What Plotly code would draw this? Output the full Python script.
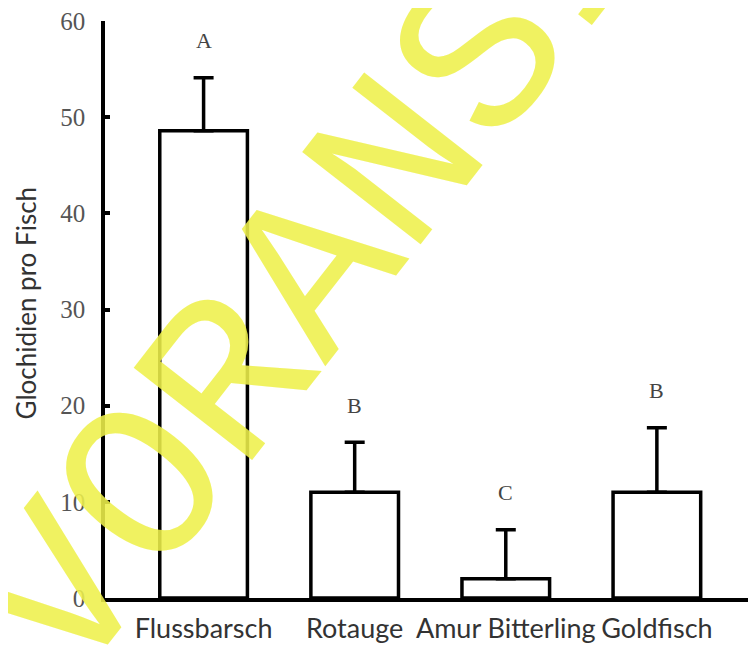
import plotly.graph_objects as go

categories = ["Flussbarsch", "Rotauge", "Amur Bitterling", "Goldfisch"]
means = [48.6, 11.0, 2.0, 11.0]
errors = [5.5, 5.2, 5.1, 6.7]
letters = ["A", "B", "C", "B"]
y_ticks = [0, 10, 20, 30, 40, 50, 60]

fig = go.Figure()
fig.add_trace(go.Bar(
    x=categories, y=means, width=0.58,
    marker=dict(color="white", line=dict(color="black", width=3.5)),
    error_y=dict(type="data", array=errors, symmetric=False, arrayminus=[0]*len(errors),
                 color="black", thickness=3.5, width=10),
    showlegend=False,
))

for c, m, e, l in zip(categories, means, errors, letters):
    fig.add_annotation(x=c, y=m + e, text=l, showarrow=False, yanchor="middle", yshift=37,
                       font=dict(family="Liberation Serif", size=22, color="#444"))

fig.add_annotation(xref="paper", yref="paper", x=-0.12, y=0.512, text="Glochidien pro Fisch",
                   textangle=-90, showarrow=False, xanchor="center", yanchor="middle",
                   font=dict(family="Lato", size=26, color="#333"))

# watermark
fig.add_annotation(xref="paper", yref="paper", x=0.5175, y=0.8397, text="VORANSICHT",
                   textangle=-52, showarrow=False, xanchor="center", yanchor="middle",
                   font=dict(family="Liberation Mono", size=228, color="rgba(238,240,75,0.88)"))

fig.update_layout(
    width=756, height=645,
    margin=dict(l=97, r=0, t=10, b=55),
    plot_bgcolor="white", paper_bgcolor="white",
)
fig.update_xaxes(range=[-0.6525, 3.709], showline=True, linecolor="black", linewidth=3.5,
                 ticks="", showgrid=False, ticklabelstandoff=4,
                 tickfont=dict(family="Lato", size=27, color="#333"))
fig.update_yaxes(range=[0, 60], tickvals=y_ticks, showline=True, linecolor="black", linewidth=3.5,
                 ticks="inside", ticklen=5, tickwidth=3.5, tickcolor="black", showgrid=False,
                 zeroline=False, ticklabelstandoff=11, ticklabeloverflow="allow",
                 tickfont=dict(family="Liberation Serif", size=25, color="#555"))

fig.write_html("out.html")
